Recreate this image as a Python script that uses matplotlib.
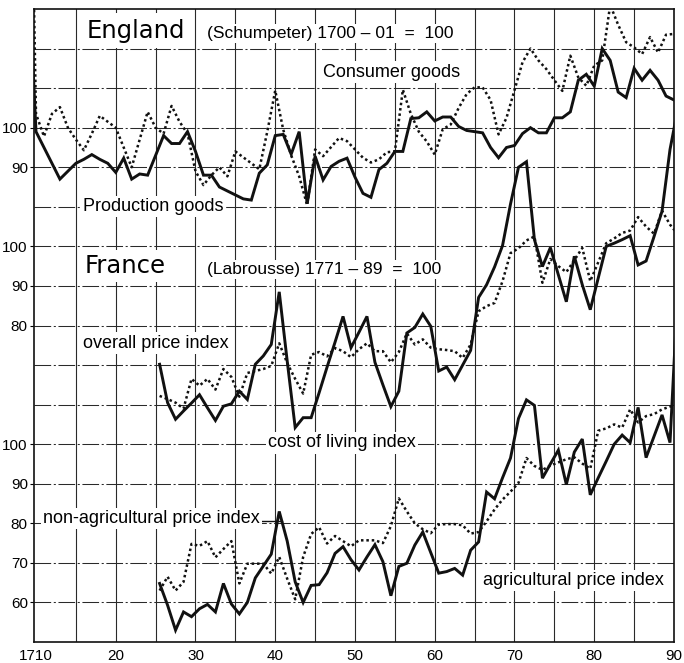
import matplotlib
matplotlib.use("Agg")
import matplotlib.pyplot as plt
import numpy as np

# ---------------- data ----------------
# England (Schumpeter), 1700-01 = 100; annual values 1709..1790
# (1709 lies just off the left edge; only its steep join to 1710 shows)
eng_years = list(range(1709, 1791))
eng_consumer_goods = [
    213,
    103.5, 97.8, 103.5, 105.2, 100, 97, 94.3, 98.5, 103, 101.5,
    100, 95, 90, 97, 104, 100, 98.5, 105.5, 101.5, 98.5,
    89, 85.5, 88, 90, 87.7, 94, 92.5, 91, 89.5, 99,
    109.4, 99.5, 93, 87.7, 80.4, 94.5, 92.8, 95.1, 97.4, 96.6,
    94.5, 92.4, 91.2, 92, 93.8, 94, 109.6, 103.5, 99, 96.5,
    93.2, 99.6, 100.8, 105, 108.5, 110.2, 110.2, 107, 98.3, 102.5,
    109.5, 116.5, 120, 117, 114.8, 112, 109.3, 118.2, 112.7, 110.6,
    115.7, 117, 131, 126, 121.6, 120.3, 118.6, 122.9, 119, 123.5,
    123.7,
]
eng_production_goods = [
    143,
    99, 95, 91, 87, 89, 91, 92, 93.2, 92, 91,
    88.7, 92.3, 87, 88.3, 88, 93, 98, 96, 96, 99,
    94, 88, 88, 85, 84, 83, 82, 81.7, 88.5, 90.6,
    98, 98.3, 93.3, 99, 80.8, 92.8, 86.8, 90.2, 91.5, 92.3,
    87.5, 83.4, 82.4, 89.4, 91, 94, 94, 102.3, 102.5, 104,
    101.7, 102.7, 102.7, 100.3, 99.3, 99, 98.7, 95, 92.4, 95,
    95.5, 98.5, 100, 98.7, 98.7, 102.5, 102.5, 104, 112, 113.5,
    110.5, 120, 117, 109, 107.6, 115, 112, 114.5, 112, 108,
    107,
]

# France (Labrousse), 1771-89 = 100; harvest years 1725..1790
fr_years = list(range(1725, 1791))
fr_overall_price = [
    62.2, 61.4, 60.5, 59, 66.5, 64.8, 66.5, 63.8, 69, 67,
    62, 68, 68.5, 69, 69.8, 75.5, 70.5, 66.5, 62.8, 72.6,
    73.3, 72.2, 74.3, 73.5, 72, 74, 75.5, 73.5, 73.5, 70.7,
    73.3, 78, 75.2, 76.5, 74.4, 74, 73.8, 73.5, 71.8, 75.2,
    83.6, 84.9, 85.7, 91.2, 98.3, 99.5, 101.5, 102.5, 90.8, 96.8,
    95, 93.5, 96.5, 99.6, 91.2, 96, 100.8, 102, 103.4, 104,
    107.4, 105, 103.2, 109, 105.5, 103,
]
fr_cost_of_living = [
    70.2, 60.5, 56.3, 58.4, 60.4, 62.5, 59.2, 56, 59.6, 60.2,
    63.4, 61.3, 70.2, 72.3, 75.2, 88.5, 71, 54.2, 56.7, 56.7,
    63, 69.5, 75.8, 82.3, 74.4, 78.3, 82.3, 70.7, 65, 59.5,
    63.4, 78.1, 79.5, 82.9, 79.8, 68.5, 69.5, 66.3, 70, 73.7,
    87.1, 90.3, 94.8, 100.2, 110.7, 120, 121.4, 101.7, 94.9, 99.7,
    92.8, 86, 97.5, 90.3, 84, 92, 100, 100.8, 101.7, 102.7,
    95.3, 96.3, 102.5, 108.9, 124.5, 135,
]
fr_non_agricultural = [
    63, 66.5, 63, 65.2, 74.8, 74.3, 75.5, 71.4, 73.5, 75.5,
    64.8, 69.8, 69.8, 69.8, 67.3, 71.5, 66, 60.8, 71.5, 77.3,
    79, 74.9, 76.8, 75.5, 74.2, 75.7, 75.7, 75.7, 75, 79.3,
    86.3, 83, 80, 78.5, 77.5, 79.7, 79.8, 79.8, 79.5, 77.4,
    77.8, 80.5, 83.5, 86, 88, 90.2, 96.5, 94.5, 93.5, 94.6,
    95.4, 96.2, 96.7, 95.1, 93.8, 103.4, 104, 105, 104.2, 108.8,
    105.5, 107.1, 107.6, 108.8, 109.5, 110,
]
fr_agricultural = [
    64.8, 59.3, 53, 57.6, 56.4, 58.4, 59.5, 57.6, 64.8, 59.6,
    57.1, 60, 66.2, 69.2, 72.2, 83, 75.5, 65.2, 60, 64.3,
    64.5, 67.5, 72.4, 74.1, 70.8, 68.2, 71.5, 74.6, 70.3, 61.7,
    69.1, 69.9, 74.5, 77.8, 72.6, 67.4, 67.8, 68.6, 66.9, 73.2,
    75.3, 87.9, 86.2, 91.5, 96.5, 106.5, 111.2, 109.8, 91.4, 95,
    98.5, 89.8, 98, 101.3, 87.2, 91.5, 95.7, 100, 102.3, 100.4,
    109.3, 96.6, 102, 107.4, 100.4, 140,
]

x_tick_years = [1710, 1720, 1730, 1740, 1750, 1760, 1770, 1780, 1790]
x_tick_labels = ["1710", "20", "30", "40", "50", "60", "70", "80", "90"]
eng_tick_values = [100, 90]
mid_tick_values = [100, 90, 80]
low_tick_values = [100, 90, 80, 70, 60]

# ---------------- layout ----------------
ENG_SHIFT = 80   # England panel drawn 8 grid steps above the lower panel
MID_SHIFT = 50   # middle French panel 5 grid steps above
LOW_SHIFT = 0
FR_CENTER = 0.5  # harvest-year values drawn mid-year

plt.rcParams["font.family"] = ["Liberation Sans", "DejaVu Sans"]

fig = plt.figure(figsize=(6.84, 6.63), dpi=100)
ax = fig.add_axes([34 / 684, 21 / 663, 640 / 684, 633 / 663])
ax.set_xlim(1709.75, 1790)
ax.set_ylim(50, 210)

grid_c = "#2a2a2a"
for yr in range(1715, 1790, 5):
    ax.axvline(yr, color=grid_c, lw=0.8, zorder=1)
for c in range(60, 210, 10):
    ax.axhline(c, color=grid_c, lw=0.75, ls=(0, (16, 2.5, 2, 2.5)), zorder=1)

solid_kw = dict(color="#111111", lw=2.1, zorder=3, solid_joinstyle="miter")
dot_kw = dict(color="#111111", lw=1.8, ls=(0, (1, 1.15)), zorder=3)

ex = np.array(eng_years)
ax.plot(ex, np.array(eng_consumer_goods) + ENG_SHIFT, **dot_kw)
ax.plot(ex, np.array(eng_production_goods) + ENG_SHIFT, **solid_kw)

fx = np.array(fr_years) + FR_CENTER
ax.plot(fx, np.array(fr_overall_price) + MID_SHIFT, **dot_kw)
ax.plot(fx, np.array(fr_cost_of_living) + MID_SHIFT, **solid_kw)
ax.plot(fx, np.array(fr_non_agricultural) + LOW_SHIFT, **dot_kw)
ax.plot(fx, np.array(fr_agricultural) + LOW_SHIFT, **solid_kw)

# ticks
ax.set_xticks(x_tick_years, x_tick_labels)
ax.tick_params(axis="x", length=0, pad=5, labelsize=11)
yt = ([v + ENG_SHIFT for v in eng_tick_values]
      + [v + MID_SHIFT for v in mid_tick_values]
      + [v + LOW_SHIFT for v in low_tick_values])
yl = [str(v) for v in eng_tick_values + mid_tick_values + low_tick_values]
ax.set_yticks(yt, yl)
ax.tick_params(axis="y", length=3, width=0.8, pad=1.5, labelsize=11)

for s in ax.spines.values():
    s.set_linewidth(1.2)
    s.set_color("#111111")
    s.set_zorder(4)

# labels
def label(x, y, s, size=13, pad=1.5, family=None):
    kw = dict(fontsize=size, va="baseline", ha="left", zorder=6,
              bbox=dict(facecolor="white", edgecolor="none", pad=pad))
    if family:
        kw["family"] = family
    ax.text(x, y, s, **kw)

label(1716.4, 202.75, "England", size=17.5, pad=4, family="DejaVu Sans")
label(1731.5, 202.7, "(Schumpeter) 1700 – 01  =  100", size=12.5)
label(1746.0, 192.9, "Consumer goods", size=13)
label(1715.9, 158.9, "Production goods", size=13)
label(1716.15, 143.2, "France", size=17.5, pad=3, family="DejaVu Sans")
label(1731.5, 143.0, "(Labrousse) 1771 – 89  =  100", size=12.5)
label(1715.9, 124.4, "overall price index", size=13)
label(1739.1, 99.2, "cost of living index", size=13)
label(1710.9, 80.0, "non-agricultural price index", size=13)
label(1766.05, 64.4, "agricultural price index", size=13)
ax.plot([1738.4, 1740.9], [80.6, 80.6], color="#111111", lw=1.0, zorder=4)

fig.savefig("out.png", dpi=100)
